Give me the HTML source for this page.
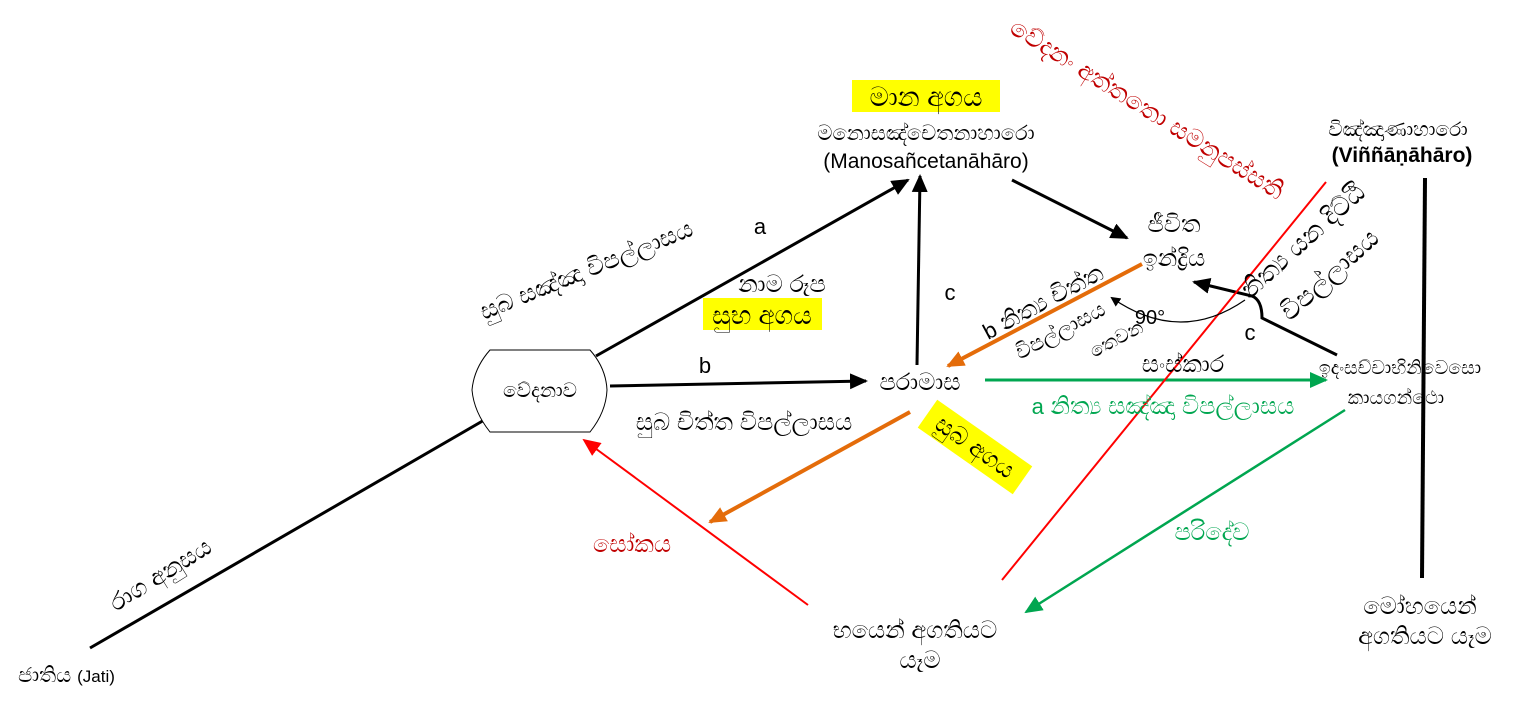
<!DOCTYPE html>
<html><head><meta charset="utf-8"><style>
html,body{margin:0;padding:0;background:#fff;}
svg{display:block;font-family:"Liberation Sans","DejaVu Sans",sans-serif;}
</style></head><body>
<svg width="1528" height="705" viewBox="0 0 1528 705" xmlns="http://www.w3.org/2000/svg">
<defs>
<marker id="ab" markerWidth="10" markerHeight="10" refX="8" refY="5" orient="auto" markerUnits="userSpaceOnUse" viewBox="0 0 10 10"><path d="M0,0 L10,5 L0,10 z" fill="#000"/></marker>
<marker id="abk" markerWidth="18" markerHeight="16" refX="16" refY="8" orient="auto" markerUnits="userSpaceOnUse"><path d="M0,0 L18,8 L0,16 z" fill="#000"/></marker>
<marker id="ag" markerWidth="18" markerHeight="16" refX="16" refY="8" orient="auto" markerUnits="userSpaceOnUse"><path d="M0,0 L18,8 L0,16 z" fill="#00a650"/></marker>
<marker id="ao" markerWidth="18" markerHeight="16" refX="16" refY="8" orient="auto" markerUnits="userSpaceOnUse"><path d="M0,0 L18,8 L0,16 z" fill="#e46c0a"/></marker>
<marker id="ar" markerWidth="18" markerHeight="16" refX="16" refY="8" orient="auto" markerUnits="userSpaceOnUse"><path d="M0,0 L18,8 L0,16 z" fill="#ff0000"/></marker>
</defs>

<rect x="852" y="80" width="148" height="32" fill="#ffff00"/>
<rect x="703" y="298" width="119" height="32" fill="#ffff00"/>
<g transform="translate(975,447) rotate(35)"><rect x="-58" y="-17" width="116" height="34" fill="#ffff00"/>
<text x="0" y="8" font-size="24" text-anchor="middle">සුබ අගය</text></g>

<line x1="90" y1="648" x2="486" y2="419" stroke="#000" stroke-width="3"/>
<line x1="596" y1="356" x2="908" y2="180" stroke="#000" stroke-width="3" marker-end="url(#abk)"/>
<line x1="610" y1="386" x2="866" y2="381" stroke="#000" stroke-width="3" marker-end="url(#abk)"/>
<line x1="917" y1="365" x2="920" y2="176" stroke="#000" stroke-width="3" marker-end="url(#abk)"/>
<line x1="1012" y1="180" x2="1127" y2="238" stroke="#000" stroke-width="3" marker-end="url(#abk)"/>
<path d="M1337,355 L1262,318 Q1262,300 1252,296 L1194,282" fill="none" stroke="#000" stroke-width="3" marker-end="url(#abk)"/>
<line x1="985" y1="380" x2="1326" y2="380" stroke="#00a650" stroke-width="3" marker-end="url(#ag)"/>
<line x1="1142" y1="264" x2="948" y2="366" stroke="#e46c0a" stroke-width="4" marker-end="url(#ao)"/>
<line x1="910" y1="412" x2="710" y2="522" stroke="#e46c0a" stroke-width="4" marker-end="url(#ao)"/>
<line x1="808" y1="605" x2="584" y2="440" stroke="#ff0000" stroke-width="2" marker-end="url(#ar)"/>
<line x1="1345" y1="410" x2="1026" y2="612" stroke="#00a650" stroke-width="2.5" marker-end="url(#ag)"/>
<line x1="1326" y1="182" x2="1002" y2="580" stroke="#ff0000" stroke-width="2"/>
<line x1="1425" y1="178" x2="1422" y2="578" stroke="#000" stroke-width="4"/>
<path d="M1245,300 Q1180,345 1112,298" fill="none" stroke="#000" stroke-width="1.2" marker-end="url(#ab)"/>

<path d="M490,350 L590,350 Q606,368 607,390 Q606,412 590,432 L490,432 Q474,412 472,390 Q474,368 490,350 Z" fill="#fff" stroke="#000" stroke-width="1"/>
<text x="540" y="397" font-size="20" text-anchor="middle">වේදනාව</text>

<g font-size="24" fill="#000">
<text x="926" y="106" font-size="27" text-anchor="middle">මාන අගය</text>
<text x="926" y="140" font-size="21" text-anchor="middle">මනොසඤ්චෙතනාහාරො</text>
<text x="926" y="168" font-size="21" text-anchor="middle">(Manosañcetanāhāro)</text>
<text x="1398" y="136" font-size="20" text-anchor="middle">විඤ්ඤාණාහාරො</text>
<text x="1402" y="162" font-size="21" font-weight="bold" text-anchor="middle">(Viññāṇāhāro)</text>
<text x="1174" y="232" text-anchor="middle">ජීවිත</text>
<text x="1174" y="266" text-anchor="middle">ඉන්ද්‍රිය</text>
<text x="762" y="324" font-size="26" text-anchor="middle">සුභ අගය</text>
<text x="782" y="292" text-anchor="middle">නාම රූප</text>
<text x="760" y="234" font-size="22" text-anchor="middle">a</text>
<text x="950" y="300" font-size="22" text-anchor="middle">c</text>
<text x="705" y="373" font-size="22" text-anchor="middle">b</text>
<text x="920" y="390" text-anchor="middle">පරාමාස</text>
<text x="744" y="430" text-anchor="middle">සුබ චිත්ත විපල්ලාසය</text>
<text x="1183" y="372" text-anchor="middle">සංස්කාර</text>
<text x="1400" y="374" font-size="19" text-anchor="middle">ඉදංසච්චාභිනිවෙසො</text>
<text x="1396" y="404" font-size="19" text-anchor="middle">කායගන්ථො</text>
<text x="1150" y="324" font-size="20" text-anchor="middle">90°</text>
<text x="1250" y="340" font-size="22" text-anchor="middle">c</text>
<text x="915" y="638" text-anchor="middle">භයෙන් අගතියට</text>
<text x="920" y="668" text-anchor="middle">යෑම</text>
<text x="1420" y="614" text-anchor="middle">මෝහයෙන්</text>
<text x="1425" y="644" text-anchor="middle">අගතියට යෑම</text>
<text x="18" y="682" font-size="21">ජාතිය <tspan font-size="17">(Jati)</tspan></text>
</g>
<text x="1163" y="414" font-size="24" fill="#00a650" text-anchor="middle"><tspan font-size="22">a</tspan> නිත්‍ය සඤ්ඤා විපල්ලාසය</text>
<text x="1212" y="540" font-size="24" fill="#00a650" text-anchor="middle">පරිදේව</text>
<text x="632" y="552" font-size="24" fill="#c00000" text-anchor="middle">සෝකය</text>

<g font-size="24" fill="#000">
<text transform="translate(484,320) rotate(-22)">සුබ සඤ්ඤා විපල්ලාසය</text>
<text transform="translate(116,612) rotate(-32)">රාග අනුසය</text>
<text transform="translate(988,340) rotate(-28)"><tspan font-size="22">b</tspan> නිත්‍ය චිත්ත</text>
<text transform="translate(1020,360) rotate(-28)" font-size="21">විපල්ලාසය</text>
<text transform="translate(1094,358) rotate(-28)" font-size="19">තෙවන</text>
<text transform="translate(1250,300) rotate(-42)" font-size="26">නිත්‍ය යන දිට්ඨි</text>
<text transform="translate(1290,322) rotate(-42)" font-size="26">විපල්ලාසය</text>
</g>
<text transform="translate(1008,32) rotate(32)" font-size="25" fill="#c00000">වේදනං අත්තතො සමනුපස්සති</text>
</svg>
</body></html>
